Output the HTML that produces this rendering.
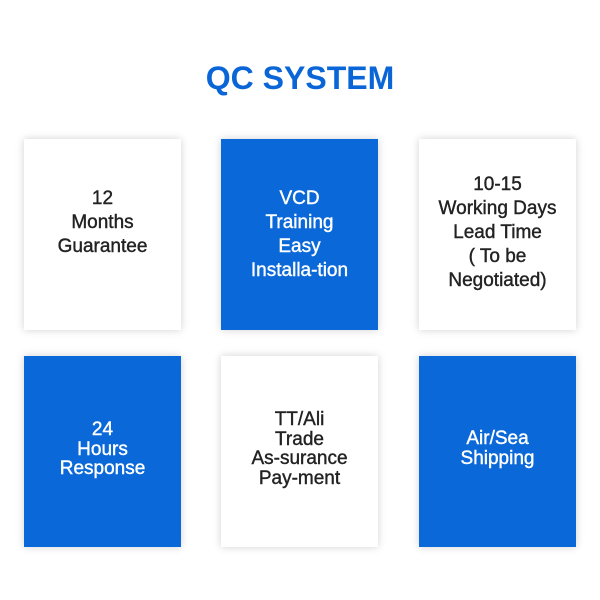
<!DOCTYPE html>
<html><head><style>
body{margin:0;width:600px;height:600px;background:#fff;position:relative;overflow:hidden;font-family:"Liberation Sans",Arial,sans-serif}
h1{position:absolute;top:58px;left:0;width:600px;text-align:center;margin:0;font-size:32px;font-weight:bold;color:#0a66d6;line-height:40px}
.c{position:absolute;width:157px;height:191px;box-shadow:0 0 8px rgba(0,0,0,.18)}
.w{background:#fff;color:#222}.b{background:#0a68d8;color:#fff}
.t{position:absolute;left:0;width:100%;text-align:center;font-size:19px;font-weight:normal;-webkit-text-stroke:0.4px currentColor}
.r1 .t{line-height:24px}.r2 .t{line-height:19.6px}
</style></head><body>
<h1>QC SYSTEM</h1>
<div class="c w r1" style="left:24px;top:139px"><div class="t" style="top:48px">12<br>Months<br>Guarantee</div></div>
<div class="c b r1" style="left:221px;top:139px"><div class="t" style="top:48px">VCD<br>Training<br>Easy<br>Installa-tion</div></div>
<div class="c w r1" style="left:419px;top:139px"><div class="t" style="top:34px">10-15<br>Working Days<br>Lead Time<br>( To be<br>Negotiated)</div></div>
<div class="c b r2" style="left:24px;top:356px"><div class="t" style="top:64px">24<br>Hours<br>Response</div></div>
<div class="c w r2" style="left:221px;top:356px"><div class="t" style="top:54px">TT/Ali<br>Trade<br>As-surance<br>Pay-ment</div></div>
<div class="c b r2" style="left:419px;top:356px"><div class="t" style="top:73px">Air/Sea<br>Shipping</div></div>
</body></html>
